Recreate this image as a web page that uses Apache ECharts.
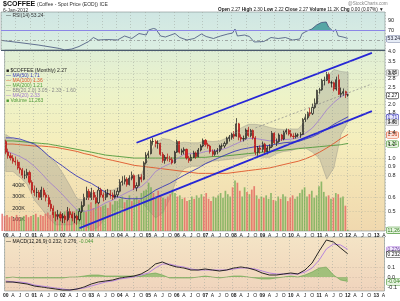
<!DOCTYPE html>
<html><head><meta charset="utf-8">
<script src="https://cdn.jsdelivr.net/npm/echarts@6/dist/echarts.min.js"></script>
<style>html,body{margin:0;padding:0;background:#fff}#c{width:400px;height:301px}</style>
</head><body><div id="c"></div>
<script>
// ---------- axis categories (monthly, Jan 2000 .. Apr 2013) ----------
const firstYear = 2000, lastYear = 2013, lastMonthOfLastYear = 4;
const months = [];
for (let y = firstYear; y <= lastYear; y++) {
  for (let m = 1; m <= 12; m++) {
    if (y === lastYear && m > lastMonthOfLastYear) break;
    months.push(y + '-' + String(m).padStart(2, '0'));
  }
}
// ---------- monthly candles [open, close, low, high] Jan 2000 .. Jan 2012 ----------
const candles = [
 [1.24,1.08,1.05,1.27],[1.08,1.03,0.99,1.13],[1.03,1.00,0.97,1.07],[1.00,0.96,0.93,1.04],[0.96,0.95,0.91,1.02],[0.95,0.88,0.86,0.98],
 [0.88,0.86,0.82,0.95],[0.86,0.80,0.77,0.88],[0.80,0.80,0.76,0.85],[0.80,0.83,0.77,0.87],[0.83,0.73,0.71,0.85],[0.73,0.66,0.63,0.75],
 [0.66,0.64,0.61,0.70],[0.64,0.64,0.60,0.68],[0.64,0.60,0.58,0.66],[0.60,0.66,0.58,0.69],[0.66,0.62,0.60,0.68],[0.62,0.60,0.57,0.64],
 [0.60,0.55,0.53,0.62],[0.55,0.52,0.50,0.58],[0.52,0.48,0.46,0.54],[0.48,0.47,0.44,0.50],[0.47,0.48,0.45,0.51],[0.48,0.46,0.44,0.50],
 [0.46,0.47,0.43,0.49],[0.47,0.45,0.43,0.48],[0.45,0.50,0.44,0.53],[0.50,0.48,0.46,0.52],[0.48,0.46,0.44,0.50],[0.46,0.47,0.43,0.49],
 [0.47,0.45,0.42,0.48],[0.45,0.50,0.44,0.52],[0.50,0.54,0.49,0.57],[0.54,0.60,0.53,0.63],[0.60,0.65,0.58,0.69],[0.65,0.60,0.58,0.67],
 [0.60,0.64,0.58,0.68],[0.64,0.60,0.58,0.66],[0.60,0.56,0.55,0.62],[0.56,0.66,0.55,0.69],[0.66,0.62,0.60,0.68],[0.62,0.60,0.57,0.64],
 [0.60,0.63,0.58,0.66],[0.63,0.63,0.60,0.67],[0.63,0.62,0.59,0.66],[0.62,0.60,0.58,0.64],[0.60,0.62,0.59,0.66],[0.62,0.65,0.60,0.68],
 [0.65,0.73,0.64,0.76],[0.73,0.74,0.70,0.79],[0.74,0.76,0.71,0.80],[0.76,0.71,0.69,0.78],[0.71,0.77,0.70,0.80],[0.77,0.80,0.75,0.84],
 [0.80,0.68,0.66,0.81],[0.68,0.70,0.65,0.73],[0.70,0.78,0.69,0.81],[0.78,0.76,0.73,0.81],[0.76,0.94,0.75,0.96],[0.94,1.04,0.92,1.08],
 [1.04,1.06,1.00,1.10],[1.06,1.24,1.05,1.27],[1.24,1.24,1.18,1.30],[1.24,1.21,1.15,1.27],[1.21,1.21,1.13,1.26],[1.21,1.05,1.03,1.22],
 [1.05,0.97,0.94,1.08],[0.97,1.01,0.93,1.04],[1.01,0.99,0.96,1.06],[0.99,0.98,0.95,1.03],[0.98,0.94,0.92,1.01],[0.94,1.08,0.93,1.10],
 [1.08,1.24,1.07,1.27],[1.24,1.08,1.06,1.25],[1.08,1.10,1.04,1.13],[1.10,1.12,1.05,1.15],[1.12,1.00,0.98,1.13],[1.00,0.97,0.94,1.03],
 [0.97,1.01,0.96,1.05],[1.01,1.07,1.00,1.10],[1.07,1.02,0.99,1.09],[1.02,1.11,1.01,1.14],[1.11,1.17,1.09,1.20],[1.17,1.26,1.15,1.29],
 [1.26,1.19,1.16,1.28],[1.19,1.17,1.13,1.22],[1.17,1.09,1.06,1.19],[1.09,1.05,1.02,1.12],[1.05,1.09,1.03,1.12],[1.09,1.10,1.05,1.14],
 [1.10,1.17,1.08,1.19],[1.17,1.17,1.12,1.21],[1.17,1.21,1.14,1.24],[1.21,1.29,1.19,1.32],[1.29,1.31,1.24,1.35],[1.31,1.36,1.27,1.39],
 [1.36,1.33,1.28,1.42],[1.33,1.56,1.32,1.68],[1.56,1.31,1.26,1.58],[1.31,1.28,1.24,1.36],[1.28,1.29,1.24,1.34],[1.29,1.44,1.27,1.47],
 [1.44,1.34,1.32,1.50],[1.34,1.43,1.31,1.46],[1.43,1.30,1.27,1.45],[1.30,1.08,1.04,1.33],[1.08,1.14,1.03,1.17],[1.14,1.12,1.06,1.18],
 [1.12,1.20,1.08,1.24],[1.20,1.09,1.05,1.22],[1.09,1.14,1.05,1.17],[1.14,1.16,1.10,1.20],[1.16,1.38,1.14,1.42],[1.38,1.22,1.20,1.40],
 [1.22,1.24,1.17,1.29],[1.24,1.35,1.22,1.38],[1.35,1.28,1.25,1.37],[1.28,1.40,1.26,1.43],[1.40,1.43,1.36,1.47],[1.43,1.37,1.34,1.46],
 [1.37,1.33,1.31,1.44],[1.33,1.32,1.28,1.38],[1.32,1.35,1.29,1.39],[1.35,1.35,1.31,1.38],[1.35,1.36,1.30,1.40],[1.36,1.65,1.35,1.68],
 [1.65,1.69,1.60,1.77],[1.69,1.80,1.65,1.83],[1.80,1.78,1.72,1.92],[1.78,1.93,1.75,2.03],[1.93,2.03,1.90,2.17],[2.03,2.41,2.01,2.43],
 [2.41,2.43,2.31,2.49],[2.43,2.74,2.40,2.80],[2.74,2.75,2.57,2.88],[2.75,2.96,2.72,3.06],[2.96,2.66,2.63,3.04],[2.66,2.66,2.50,2.73],
 [2.66,2.45,2.38,2.70],[2.45,2.77,2.40,2.88],[2.77,2.29,2.27,2.96],[2.29,2.32,2.20,2.50],[2.32,2.37,2.25,2.47],[2.37,2.27,2.18,2.40],
 [2.27,2.27,2.22,2.30]
];
// ---------- monthly volume (thousands) ----------
const volumesK = [
 150,130,140,120,130,110,140,120,110,130,140,120,
 130,140,150,120,140,130,150,160,140,150,170,130,
 160,150,170,180,150,160,170,190,200,220,180,170,
 230,250,200,260,240,210,220,230,200,250,230,260,
 260,280,300,250,270,310,260,280,300,270,330,350,
 360,420,380,330,300,350,310,290,280,300,320,360,
 330,300,310,280,290,260,270,300,280,310,290,320,
 300,330,280,260,300,290,310,330,290,350,320,300,
 380,440,420,350,300,380,340,320,360,390,310,280,
 300,290,310,280,330,270,260,300,280,320,300,260,
 290,310,280,300,330,360,380,300,320,350,290,310,
 390,430,340,300,310,280,290,330,320,290,300,220,
 11.263
];
// ---------- quarterly indicator readings (Jan/Apr/Jul/Oct, 2000-01 .. 2012-01) ----------
const bbMid = [1.10,1.06,1.02,0.97,0.90,0.82,0.74,0.68,0.62,0.56,0.51,0.50,0.51,0.53,0.56,0.58,0.61,0.64,0.67,0.69,0.75,0.84,0.89,0.93,0.99,1.05,1.06,1.06,1.09,1.10,1.11,1.14,1.19,1.24,1.29,1.29,1.27,1.25,1.26,1.27,1.28,1.30,1.38,1.48,1.65,1.87,2.06,2.22,2.33];
const bbUpper = [1.36,1.28,1.26,1.23,1.22,1.12,1.02,0.94,0.82,0.70,0.59,0.58,0.63,0.65,0.66,0.66,0.69,0.76,0.79,0.81,0.99,1.22,1.29,1.27,1.21,1.23,1.22,1.22,1.25,1.24,1.25,1.30,1.39,1.48,1.55,1.55,1.53,1.49,1.46,1.45,1.46,1.46,1.62,1.88,2.31,2.87,3.16,3.08,3.05];
const bbLower = [0.84,0.84,0.78,0.71,0.58,0.52,0.46,0.42,0.42,0.42,0.43,0.42,0.39,0.41,0.46,0.50,0.53,0.52,0.55,0.57,0.51,0.46,0.49,0.59,0.77,0.87,0.90,0.90,0.93,0.96,0.97,0.98,0.99,1.00,1.03,1.03,1.01,1.01,1.06,1.09,1.10,1.14,1.14,1.08,0.99,0.76,0.88,1.36,1.60];
const ma50 = [1.30,1.30,1.28,1.24,1.20,1.12,1.03,0.96,0.90,0.84,0.79,0.75,0.72,0.68,0.64,0.61,0.60,0.59,0.59,0.59,0.62,0.66,0.69,0.72,0.76,0.80,0.84,0.88,0.93,0.97,1.01,1.05,1.09,1.12,1.14,1.16,1.17,1.18,1.20,1.22,1.23,1.24,1.28,1.32,1.38,1.46,1.55,1.63,1.71];
const ma100 = [1.20,1.20,1.19,1.18,1.17,1.17,1.16,1.15,1.13,1.11,1.09,1.06,1.04,1.01,0.99,0.97,0.95,0.93,0.91,0.90,0.89,0.88,0.87,0.86,0.85,0.84,0.83,0.82,0.82,0.82,0.82,0.82,0.83,0.84,0.85,0.86,0.87,0.88,0.90,0.92,0.94,0.96,0.99,1.03,1.08,1.14,1.21,1.29,1.36];
const ma200 = [1.25,1.25,1.24,1.23,1.22,1.21,1.20,1.18,1.16,1.14,1.12,1.10,1.08,1.06,1.04,1.03,1.02,1.01,1.00,1.00,1.00,1.00,1.00,1.00,1.00,1.00,1.00,1.01,1.01,1.02,1.02,1.03,1.04,1.05,1.06,1.07,1.08,1.09,1.10,1.11,1.12,1.13,1.14,1.15,1.16,1.17,1.18,1.19,1.21];
const macdLine = [-0.05,-0.05,-0.06,-0.07,-0.09,-0.10,-0.11,-0.12,-0.13,-0.13,-0.12,-0.10,-0.07,-0.05,-0.04,-0.03,-0.01,0.00,0.01,0.03,0.07,0.13,0.15,0.12,0.10,0.09,0.07,0.07,0.08,0.07,0.06,0.07,0.09,0.10,0.09,0.07,0.04,0.02,0.02,0.03,0.04,0.03,0.07,0.14,0.26,0.37,0.35,0.29,0.232];
const macdSignal = [-0.04,-0.05,-0.05,-0.06,-0.08,-0.09,-0.10,-0.11,-0.12,-0.13,-0.12,-0.11,-0.09,-0.07,-0.05,-0.04,-0.02,-0.01,0.00,0.02,0.04,0.09,0.13,0.13,0.11,0.10,0.08,0.07,0.07,0.07,0.07,0.07,0.08,0.09,0.09,0.08,0.06,0.04,0.03,0.03,0.03,0.03,0.05,0.09,0.17,0.28,0.33,0.32,0.276];
const macdHist = [-0.01,0.00,-0.01,-0.01,-0.01,-0.01,-0.01,-0.01,-0.01,0.00,0.00,0.01,0.02,0.02,0.01,0.01,0.01,0.01,0.01,0.01,0.03,0.04,0.02,-0.01,-0.01,-0.01,-0.01,0.00,0.01,0.00,-0.01,0.00,0.01,0.01,0.00,-0.01,-0.02,-0.02,-0.01,0.00,0.01,0.00,0.02,0.05,0.09,0.10,0.02,-0.03,-0.044];
// ---------- RSI(14) readings ----------
const rsiPoints = [
 ['2000-01',49],['2000-08',45],['2001-04',40],['2002-01',33],['2002-03',30],['2002-06',32],['2002-09',37],['2003-01',47],
 ['2003-03',55],['2003-05',50],['2003-09',51],['2004-01',50],['2004-04',58],['2004-07',53],['2004-10',63],['2005-01',60],
 ['2005-02',70],['2005-04',73],['2005-05',72],['2005-07',58],['2005-09',56],['2006-01',63],['2006-03',55],['2006-06',50],
 ['2006-09',53],['2006-12',62],['2007-02',57],['2007-05',53],['2007-08',58],['2007-11',62],['2008-01',64],['2008-02',72],
 ['2008-03',58],['2008-06',60],['2008-08',57],['2008-10',46],['2009-02',47],['2009-05',55],['2009-08',53],['2009-11',55],
 ['2010-02',50],['2010-05',52],['2010-06',63],['2010-08',68],['2010-10',72],['2010-12',80],['2011-02',85],['2011-04',86],
 ['2011-05',76],['2011-07',67],['2011-08',71],['2011-09',58],['2011-11',56],['2012-01',53.24]
];
const rsiOver70 = [['2010-09',70],['2010-10',72],['2010-12',80],['2011-02',85],['2011-04',86],['2011-05',76],['2011-06',70]];
// ---------- trend lines (date, price) ----------
const channelUpper = [['2004-08',1.22],['2012-11',3.92]];
const channelLower = [['2002-08',0.403],['2012-11',1.84]];
const channelMid = [['2008-10',1.48],['2012-11',2.62]];
// ---------- tick labels ----------
const priceTicks = [4.0,3.5,3.0,2.8,2.5,2.0,1.8,1.6,1.4,1.2,1.0,0.9,0.8,0.6,0.5];
const rsiTicks = [90,70];
const macdTicks = [0.1,0.0,-0.1];
const volumeTicksK = [100,200,300,400];
const monthLetters = {'04':'A','07':'J','10':'O'};

const qDates = months.filter((m, i) => i % 3 === 0 && i < candles.length);
const pair = arr => qDates.map((d, i) => [d, arr[i]]);
const FONT = 'Liberation Sans, Arial, sans-serif';
const axisFont = {fontSize: 5.5, color: '#222', fontFamily: FONT};

const grad = stops => ({type:'linear', x:0, y:0, x2:0, y2:1, colorStops: stops.map((c,i)=>({offset:i/(stops.length-1), color:c}))});
const LEFT = 1, RIGHT = 15;
const xCommon = (gi, showLabels) => ({
  type:'category', gridIndex: gi, data: months, boundaryGap: true,
  axisLine:{show:false}, axisTick:{show:false},
  axisLabel:{show: showLabels, interval: i => i % 3 === 0, margin: 2, fontSize: 5, color:'#222', fontFamily: FONT,
    formatter: v => { const mm = v.slice(5); return mm === '01' ? '{b|' + v.slice(2,4) + '}' : monthLetters[mm]; },
    rich:{b:{fontWeight:'bold', fontSize:5, fontFamily: FONT}}},
  splitLine:{show: gi !== 2, interval: i => i % 6 === 0, lineStyle:{color:'#9aa39a', width:0.5, type:[1,2]}}
});

const chart = echarts.init(document.getElementById('c'), null, {renderer:'canvas', width:400, height:301});
const option = {
  animation: false,
  grid: [
    {left:LEFT, right:RIGHT, top:12, height:38, show:true, backgroundColor: grad(['#cfe6e3','#dcefe2']), borderColor:'#7f8f8f', borderWidth:0.6},
    {left:LEFT, right:RIGHT, top:50, height:181, show:true, backgroundColor: grad(['#dfeed6','#edf3c8','#f5eebc','#f3e2b4','#f0d8ae']), borderColor:'#7f8f8f', borderWidth:0.6},
    {left:LEFT, right:RIGHT, top:50, height:181},
    {left:LEFT, right:RIGHT, top:237, height:54, show:true, backgroundColor: grad(['#f4e4c6','#f2dcc0','#f0d4bd']), borderColor:'#7f8f8f', borderWidth:0.6}
  ],
  xAxis: [xCommon(0,false), xCommon(1,true), xCommon(2,false), xCommon(3,true)],
  yAxis: [
    {type:'value', gridIndex:0, min:30, max:106, position:'right',
      axisLabel:{...axisFont, margin:3, customValues: rsiTicks}, axisTick:{show:false}, axisLine:{show:false}, splitLine:{show:false}},
    {type:'log', logBase:10, gridIndex:1, min:0.388, max:4.07, position:'right',
      axisLabel:{...axisFont, margin:3, customValues: priceTicks, formatter: v => Number(v).toFixed(1)}, axisTick:{show:false}, axisLine:{show:false}, splitLine:{show:false}},
    {type:'value', gridIndex:2, min:0, max:1574, position:'left',
      axisLabel:{...axisFont, inside:true, margin:24, align:'right', customValues: volumeTicksK, formatter: v => v + 'K'}, axisTick:{show:false}, axisLine:{show:false}, splitLine:{show:false}},
    {type:'value', gridIndex:3, min:-0.14, max:0.40, position:'right',
      axisLabel:{...axisFont, margin:3, customValues: macdTicks, formatter: v => Number(v).toFixed(1)}, axisTick:{show:false}, axisLine:{show:false}, splitLine:{show:false}}
  ],
  series: [
    // RSI
    {type:'line', xAxisIndex:0, yAxisIndex:0, data: rsiOver70, symbol:'none', lineStyle:{width:0}, areaStyle:{origin:70, color:'#3f9a9a', opacity:0.85}, silent:true},
    {type:'line', xAxisIndex:0, yAxisIndex:0, data: rsiPoints, symbol:'none', lineStyle:{color:'#44507a', width:0.8},
      markLine:{silent:true, symbol:'none', label:{show:false}, data:[
        {yAxis:70, lineStyle:{color:'#8b86e6', width:1, type:'solid'}},
        {yAxis:50, lineStyle:{color:'#7a7a7a', width:0.6, type:[3,2,1,2]}},
        {yAxis:30, lineStyle:{color:'#4a5a6e', width:1.2, type:'solid'}}]}},
    // volume
    {type:'bar', xAxisIndex:2, yAxisIndex:2, data: volumesK, barWidth:1.7,
      itemStyle:{color: p => candles[p.dataIndex][1] >= candles[p.dataIndex][0] ? 'rgba(110,170,80,0.75)' : 'rgba(225,95,90,0.75)'}},
    // Bollinger band fill
    {type:'custom', xAxisIndex:1, yAxisIndex:1, data:[[0,1]], clip:true, silent:true, z:1,
      renderItem: (params, api) => {
        const up = qDates.map((d,i) => api.coord([months.indexOf(d), bbUpper[i]]));
        const lo = qDates.map((d,i) => api.coord([months.indexOf(d), bbLower[i]])).reverse();
        return {type:'polygon', shape:{points: up.concat(lo)}, style:{fill:'rgba(150,150,140,0.35)', stroke:'rgba(120,120,120,0.6)', lineWidth:0.5}};
      }},
    {type:'line', xAxisIndex:1, yAxisIndex:1, data: pair(ma200), symbol:'none', lineStyle:{color:'#4f9a3a', width:0.9}, z:2},
    {type:'line', xAxisIndex:1, yAxisIndex:1, data: pair(ma100), symbol:'none', lineStyle:{color:'#e0562a', width:0.9}, z:2},
    {type:'line', xAxisIndex:1, yAxisIndex:1, data: pair(ma50), symbol:'none', lineStyle:{color:'#3a3ab8', width:0.9}, z:2},
    {type:'line', xAxisIndex:1, yAxisIndex:1, data: pair(bbMid), symbol:'none', lineStyle:{color:'#a07ad0', width:0.8}, z:2},
    // candles
    {type:'candlestick', xAxisIndex:1, yAxisIndex:1, data: candles, barWidth:1.6, z:3,
      itemStyle:{color:'rgba(255,255,255,0.2)', color0:'#e02020', borderColor:'#111', borderColor0:'#b01010', borderWidth:0.7},
      markLine:{silent:true, symbol:'none', label:{show:false}, lineStyle:{color:'#a8ad9a', width:0.5, type:[1,2]},
        data: priceTicks.map(v => ({yAxis: v}))}},
    // channel lines
    {type:'line', xAxisIndex:1, yAxisIndex:1, data: channelUpper, symbol:'none', lineStyle:{color:'#2626d6', width:1.8}, z:4},
    {type:'line', xAxisIndex:1, yAxisIndex:1, data: channelLower, symbol:'none', lineStyle:{color:'#2626d6', width:1.8}, z:4},
    {type:'line', xAxisIndex:1, yAxisIndex:1, data: channelMid, symbol:'none', lineStyle:{color:'#888', width:0.7, type:[2,2]}, z:4},
    // MACD
    {type:'line', xAxisIndex:3, yAxisIndex:3, data: pair(macdHist), symbol:'none', lineStyle:{color:'#4f9a3a', width:0.5}, areaStyle:{color:'rgba(90,170,60,0.75)'}},
    {type:'line', xAxisIndex:3, yAxisIndex:3, data: pair(macdSignal), symbol:'none', lineStyle:{color:'#b07ae0', width:0.9}},
    {type:'line', xAxisIndex:3, yAxisIndex:3, data: pair(macdLine), symbol:'none', lineStyle:{color:'#111', width:0.9},
      markLine:{silent:true, symbol:'none', label:{show:false}, lineStyle:{color:'#b0a090', width:0.5, type:[1,2]},
        data: macdTicks.map(v => ({yAxis: v}))}}
  ],
  graphic: [
    {type:'text', left:3, top:1, style:{text:'$COFFEE', font:'bold 7px ' + FONT, fill:'#111'}},
    {type:'text', left:37, top:2.5, style:{text:'(Coffee - Spot Price (EOD)) ICE', font:'5px ' + FONT, fill:'#333'}},
    {type:'text', left:3, top:8, style:{text:'6-Jan-2012', font:'5px ' + FONT, fill:'#333'}},
    {type:'text', left:348, top:1, style:{text:'@StockCharts.com', font:'4.6px ' + FONT, fill:'#888'}},
    {type:'text', left:218, top:7.5, style:{
      text:'{b|Open} 2.27 {b|High} 2.30 {b|Low} 2.22 {b|Close} 2.27 {b|Volume} 11.2K {b|Chg} 0.00 (0.07%) ▼',
      font:'4.7px ' + FONT, fill:'#222', rich:{b:{fontWeight:'bold', fontSize:4.7, fontFamily:FONT}}}},
    {type:'text', left:6, top:13, style:{text:'— RSI(14) 53.24', font:'5px ' + FONT, fill:'#333'}},
    {type:'text', left:6, top:68, style:{text:'■ $COFFEE (Monthly) 2.27', font:'5px ' + FONT, fill:'#222'}},
    {type:'text', left:6, top:73, style:{text:'— MA(50) 1.71', font:'5px ' + FONT, fill:'#3a3ab8'}},
    {type:'text', left:6, top:78, style:{text:'— MA(100) 1.36', font:'5px ' + FONT, fill:'#e0562a'}},
    {type:'text', left:6, top:83, style:{text:'— MA(200) 1.21', font:'5px ' + FONT, fill:'#4f9a3a'}},
    {type:'text', left:6, top:88, style:{text:'— BB(20,2.0) 3.05 - 2.33 - 1.60', font:'5px ' + FONT, fill:'#888'}},
    {type:'text', left:6, top:93, style:{text:'— MA(20) 2.33', font:'5px ' + FONT, fill:'#a07ad0'}},
    {type:'text', left:6, top:98, style:{text:'■ Volume 11,263', font:'5px ' + FONT, fill:'#4f9a3a'}},
    {type:'text', left:6, top:239, style:{text:'{k|— MACD(12,26,9)} 0.232, 0.276, {g|-0.044}', font:'5px ' + FONT, fill:'#222', rich:{k:{fill:'#111', fontSize:5}, g:{fill:'#4f9a3a', fontSize:5}}}}
  ]
};
chart.setOption(option);

// value boxes on the right scale, placed through the axes
const valueBoxes = [
  {axis:0, value:53.24, text:'53.24', stroke:'#6a78a0', fill:'#e6ecf6', color:'#223'},
  {axis:1, value:3.05, text:'3.05', stroke:'#999', fill:'#eeeeee', color:'#333'},
  {axis:1, value:2.27, text:'2.27', stroke:'#222', fill:'#ffffff', color:'#111'},
  {axis:1, value:1.71, text:'1.71', stroke:'#3a3ab8', fill:'#e8e8fb', color:'#3a3ab8'},
  {axis:1, value:1.60, text:'1.60', stroke:'#999', fill:'#eeeeee', color:'#333'},
  {axis:1, value:1.36, text:'1.36', stroke:'#e0562a', fill:'#fbe6e0', color:'#c03a16'},
  {axis:1, value:1.21, text:'1.21', stroke:'#4f9a3a', fill:'#e5f3df', color:'#2f7a1a'},
  {axis:2, value:11.263, text:'11,263', stroke:'#4f9a3a', fill:'#e5f3df', color:'#2f7a1a'},
  {axis:3, value:0.276, text:'0.276', stroke:'#b07ae0', fill:'#f1e8fb', color:'#6a3aa0'},
  {axis:3, value:0.232, text:'0.232', stroke:'#222', fill:'#ffffff', color:'#111'},
  {axis:3, value:-0.044, text:'-0.044', stroke:'#4f9a3a', fill:'#e5f3df', color:'#2f7a1a'}
];
const boxGraphics = valueBoxes.map(b => {
  const y = chart.convertToPixel({yAxisIndex: b.axis}, b.value);
  return {type:'text', left:386, top: y - 3,
    style:{text:b.text, font:'5px ' + FONT, fill:b.color, backgroundColor:b.fill, borderColor:b.stroke, borderWidth:0.6, borderRadius:1.5, padding:[0.5,1]}};
});
chart.setOption({graphic: option.graphic.concat(boxGraphics)});
</script></body></html>
